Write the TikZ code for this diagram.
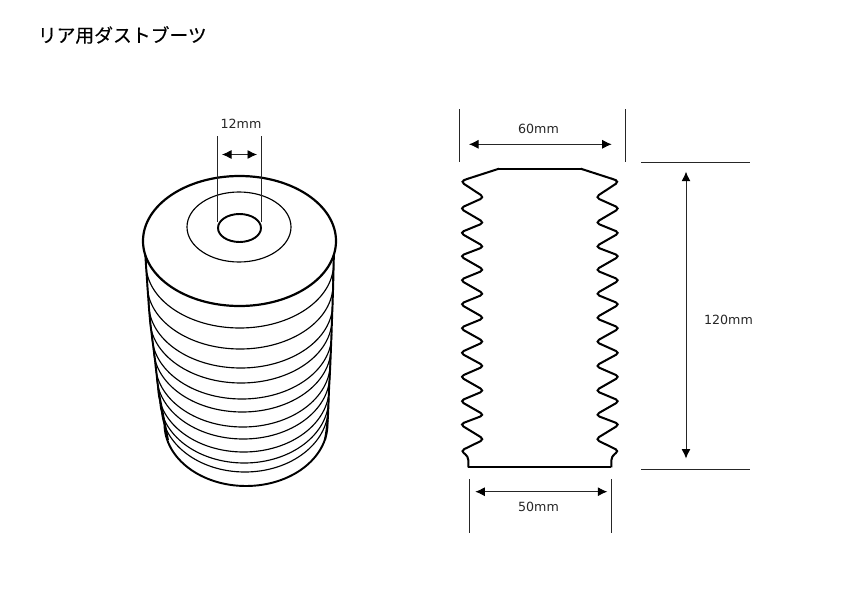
\documentclass[tikz,border=0pt]{standalone}
\usepackage{fontspec}
\setmainfont{DejaVu Sans}
\newfontfamily\jpfont[FakeBold=0.25]{Noto Sans CJK JP}
\usetikzlibrary{arrows.meta}

\begin{document}
\begin{tikzpicture}[x=0.02cm, y=-0.02cm]
    \tikzset{
        boldline/.style={line width=1.1pt},
        ribline/.style={line width=0.65pt},
        dimline/.style={line width=0.55pt, black!85},
        dimarrow/.style={line width=0.5pt, black!85, {Latex[length=1.9mm, width=1.8mm, black]}-{Latex[length=1.9mm, width=1.8mm, black]}},
        dimlabel/.style={inner sep=0pt, font=\fontsize{7.2}{9}\selectfont, black!85}
    }
    \useasboundingbox (0,0) rectangle (842,595);
    \node[anchor=west, inner sep=0pt, font=\jpfont\fontsize{10.7}{12}\selectfont] (title) at (37.5,35) {リア用ダストブーツ};

    % ribs, bottom one first
    \draw[boldline, fill=white] (246,424) ellipse [x radius=81.5, y radius=62];
    \foreach \yb/\xl/\xr in {472/161.5/328.2, 463/159.8/328.7, 452/158/329.2, 439/156.7/329.8, 427/155.3/330.3, 412/153.5/331, 399/152/331.7, 383/150/332, 368/148.8/332.7, 349/147.3/333, 328/146/333.5}
    {
    \draw[ribline, fill=white] ({(\xl+\xr)/2},\yb-64) ellipse [x radius={(\xr-\xl)/2}, y radius=64];
    }
    \draw[boldline] plot[smooth] coordinates {(145,250) (147,280) (150,320) (155,360) (158.5,390) (163.5,417) (168,440)};
    \draw[boldline] plot[smooth] coordinates {(334,250) (333.3,280) (332.7,300) (330.5,360) (329,390) (327.7,420) (325,440)};

    % top disc
    \draw[line width=1.25pt, fill=white] (239.5,241) ellipse [x radius=96.5, y radius=65];
    \draw[ribline] (239,227) ellipse [x radius=52, y radius=35];
    \draw[boldline] (239.5,228) ellipse [x radius=21.5, y radius=14];

    % 12mm
    \coordinate (H1) at (217,136);
    \coordinate (H2) at (217,222);
    \coordinate (H3) at (261,136);
    \coordinate (H4) at (261,222);
    \coordinate (H5) at (222,154.5);
    \coordinate (H6) at (257,154.5);
    \draw[dimline] (H1) -- (H2);
    \draw[dimline] (H3) -- (H4);
    \draw[dimarrow] (H5) -- (H6);
    \node[dimlabel] (holelabel) at (241,124) {12mm};

    % side view
    \foreach \side in {-1,1}
    {
    \draw[line width=1.15pt, rounded corners=2.4pt] ({539.85+\side*40.85},168.7) -- ({539.85+\side*72.8},179) -- ({539.85+\side*79.5},181.5)
        \foreach \w/\y in {55.5/197.3, 80/208.3, 55.5/222.7, 80/232.7, 55.5/246.7, 80/256, 55.5/270, 80/280, 55.5/294, 80/304, 55.5/318, 80/328, 55.5/341.7, 80/352.7, 55.5/366, 80/376.7, 55.5/390.7, 80/401, 55.5/415, 80/424.3, 55.5/439.3, 79.5/451, 71.5/456}
        { -- ({539.85+\side*\w},\y) }
        -- ({539.85+\side*71.5},467.3);
    }
    \coordinate (T1) at (499,168.7);
    \coordinate (T2) at (580.7,168.7);
    \coordinate (B1) at (468.3,467.3);
    \coordinate (B2) at (611.4,467.3);
    \draw[line width=1.2pt] (T1) -- (T2);
    \draw[line width=1.2pt] (B1) -- (B2);

    % 60mm
    \coordinate (W1) at (459,109);
    \coordinate (W2) at (459,162);
    \coordinate (W3) at (625.3,109);
    \coordinate (W4) at (625.3,162);
    \coordinate (W5) at (469,144.3);
    \coordinate (W6) at (611.7,144.3);
    \draw[dimline] (W1) -- (W2);
    \draw[dimline] (W3) -- (W4);
    \draw[dimarrow] (W5) -- (W6);
    \node[dimlabel] (toplabel) at (538.5,128.5) {60mm};

    % 50mm
    \coordinate (N1) at (469,479.3);
    \coordinate (N2) at (469,532.7);
    \coordinate (N3) at (611.3,479.3);
    \coordinate (N4) at (611.3,532.7);
    \coordinate (N5) at (475.3,491.7);
    \coordinate (N6) at (607.3,491.7);
    \draw[dimline] (N1) -- (N2);
    \draw[dimline] (N3) -- (N4);
    \draw[dimarrow] (N5) -- (N6);
    \node[dimlabel] (bottomlabel) at (538.5,506.7) {50mm};

    % 120mm
    \coordinate (V1) at (641,162.7);
    \coordinate (V2) at (750,162.7);
    \coordinate (V3) at (641,469.3);
    \coordinate (V4) at (750,469.3);
    \coordinate (V5) at (686,171.7);
    \coordinate (V6) at (686,458.5);
    \draw[dimline] (V1) -- (V2);
    \draw[dimline] (V3) -- (V4);
    \draw[dimarrow] (V5) -- (V6);
    \node[dimlabel] (heightlabel) at (728.5,319.5) {120mm};
\end{tikzpicture}
\end{document}
